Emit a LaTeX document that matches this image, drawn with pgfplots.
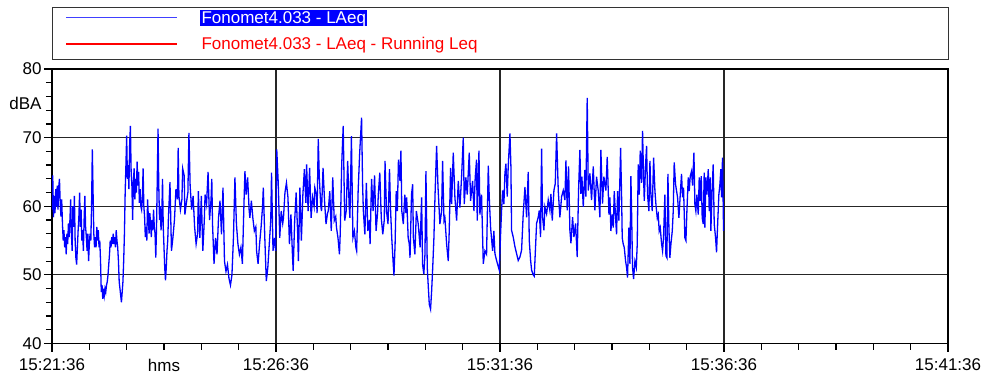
\documentclass[border=0pt]{standalone}
\usepackage{pgfplots}
\pgfplotsset{compat=1.18}
\usepackage{fontspec}
\setmainfont{Liberation Sans}
\definecolor{lblue}{RGB}{0,0,255}
\definecolor{lred}{RGB}{255,0,0}
\newcommand{\lfont}{\fontsize{17bp}{19bp}\selectfont}
\begin{document}
\begin{tikzpicture}[x=1bp,y=1bp]
\path[use as bounding box] (-52,-32.5) rectangle (936,343.5);
\begin{axis}[
  at={(0,0)}, anchor=south west,
  scale only axis, width=896bp, height=274.5bp,
  xmin=0, xmax=1200, ymin=40, ymax=80,
  xtick={0,300,600,900,1200},
  xticklabels={15:21:36,15:26:36,15:31:36,15:36:36,15:41:36},
  minor xtick={50,100,...,1150},
  ytick={40,50,...,80},
  minor ytick={42,44,...,78},
  extra y ticks={75}, extra y tick labels={dBA},
  extra y tick style={major tick length=0pt, grid=none, yticklabel style={xshift=-8bp}},
  extra x ticks={150}, extra x tick labels={hms},
  extra x tick style={major tick length=0pt, grid=none, xticklabel style={yshift=-8bp}},
  tick align=outside, xtick pos=bottom, ytick pos=left,
  major tick length=8bp, minor tick length=6bp,
  xmajorgrids, ymajorgrids,
  major grid style={black!85, line width=1.2bp},
  axis line style={line width=1.6bp},
  every tick/.style={black, line width=1.2bp},
  ticklabel style={font=\lfont},
  xticklabel style={yshift=-4bp},
  yticklabel style={/pgf/number format/assume math mode=true, xshift=1bp},
  legend style={at={(axis description cs:0.011,1.051)}, anchor=south west,
    draw=none, fill=none, font=\lfont, row sep=10bp,
    nodes={inner sep=0pt},
    /tikz/every odd column/.append style={column sep=22bp}},
  legend cell align=left,
]
\addlegendimage{legend image code/.code={\draw[color=lblue!75, line width=1.2bp] (0bp,0bp) -- (111bp,0bp);}}
\addlegendentry[fill=lblue, text=white, inner sep=1.5bp]{Fonomet4.033 - LAeq}
\addlegendimage{legend image code/.code={\draw[color=lred, line width=2bp] (0bp,0bp) -- (111bp,0bp);}}
\addlegendentry[text=lred, inner ysep=1.5bp, inner xsep=1.5bp]{Fonomet4.033 - LAeq - Running Leq}
\addplot[lblue, line width=1.3bp, forget plot] coordinates {
(0,59.5)(1,64.5)(2,58.4)(3,61.5)(4,59.0)(5,62.5)(6,60.0)(7,63.0)(8,59.5)(9,62.8)(10,64.0)(11,60.5)(12,58.5)(13,61.0)(14,57.5)(15,55.0)(16,56.5)(17,54.0)(18,55.5)(19,53.0)(20,56.0)(21,54.5)(22,57.5)(23,55.5)(24,58.0)(25,61.0)(26,56.0)(27,53.5)(28,60.0)(29,57.0)(30,61.5)(31,55.0)(32,52.5)(33,51.5)(34,54.0)(35,56.5)(36,58.5)(37,62.0)(38,57.0)(39,59.5)(40,55.0)(41,56.5)(42,53.5)(43,58.0)(44,61.5)(45,57.0)(46,55.5)(47,53.5)(48,56.0)(49,52.0)(50,54.5)(51,56.0)(52,55.0)(53,60.0)(54,68.3)(55,62.0)(56,56.0)(57,54.0)(58,55.5)(59,54.0)(60,57.0)(61,55.0)(62,56.5)(63,54.0)(64,55.0)(65,52.0)(66,47.5)(67,48.5)(68,46.5)(69,48.0)(70,47.0)(71,48.0)(72,47.5)(73,48.5)(74,49.0)(75,50.0)(76,51.5)(77,53.0)(78,55.0)(79,54.0)(80,55.5)(81,54.5)(82,56.0)(83,54.5)(84,55.5)(85,54.0)(86,56.5)(87,55.0)(88,54.0)(89,52.0)(90,49.0)(91,48.0)(92,47.0)(93,46.0)(94,47.5)(95,49.0)(96,52.0)(97,56.0)(98,62.0)(99,66.0)(100,70.3)(101,64.0)(102,66.0)(103,62.5)(104,69.0)(105,71.7)(106,65.0)(107,63.0)(108,58.0)(109,63.5)(110,65.5)(111,61.0)(112,64.0)(113,62.0)(114,66.5)(115,63.0)(116,65.0)(117,60.5)(118,62.5)(119,60.0)(120,59.5)(121,61.0)(122,65.5)(123,60.0)(124,58.5)(125,55.5)(126,57.0)(127,55.0)(128,61.0)(129,58.5)(130,56.0)(131,59.0)(132,57.5)(133,55.5)(134,58.0)(135,56.5)(136,59.5)(137,57.0)(138,56.0)(139,52.5)(140,57.0)(141,64.0)(142,71.3)(143,63.0)(144,58.0)(145,60.0)(146,56.5)(147,58.0)(148,64.0)(149,57.0)(150,54.0)(151,51.0)(152,49.2)(153,51.0)(154,53.5)(155,55.0)
(156,58.5)(158,63.5)(160,53.5)(162,55.5)(164,58.0)(166,62.5)(168,61.0)(169,68.5)(170,61.5)(172,59.5)(174,61.0)(175,65.5)(177,64.5)(178,58.8)(180,60.5)(182,62.0)(183.4,70.7)(185,63.0)(187,59.5)(189,61.5)(191,57.0)(193,54.5)(195,56.0)(196,62.2)(198,55.4)(200,61.5)(202,53.5)(204,58.0)(205,61.7)(207,60.3)(209,65.0)(211,58.0)(213,61.0)(214,64.0)(215,57.4)(217,51.6)(219,55.4)(221,53.0)(223,58.3)(225,60.8)(227,55.9)(229,62.7)(231,52.0)(233,50.5)(235,51.5)(237,49.5)(239,48.5)(241,50.0)(243,55.4)(245,64.2)(247,57.4)(249,54.5)(251,53.0)(253,54.0)(255,51.6)(257,60.0)(258.4,65.1)(260,61.7)(262,64.2)(264,59.5)(265,58.3)(267,60.8)(269,58.3)(271,56.4)(273,57.0)(274,53.5)(276,51.6)(278,54.5)(280,56.9)(282,60.0)(283,62.7)(285,55.4)(287,49.1)(289,51.0)(291,54.5)(293,58.0)(294,64.9)(296,53.5)(298,55.4)
(299.5,53.5)(301,68.3)(303,63.4)(305,55.4)(307,59.3)(309,57.5)(310,58.3)(312,62.0)(314,63.4)(316,61.3)(318,54.5)(320,58.8)(322,53.0)(323,50.6)(325,57.9)(327,62.0)(329,56.0)(330,52.0)(332,62.7)(334,55.0)(336,61.7)(338,65.4)(340,60.5)(341,66.1)(343,59.3)(345,65.6)(347,58.3)(349,61.3)(351,60.0)(352,62.7)(354,61.7)(355,59.0)(356.6,69.8)(358,64.2)(360,60.0)(361,59.3)(363,65.6)(365,60.8)(367,57.4)(369,59.0)(370,59.3)(372,62.2)(374,56.4)(376,64.2)(378,57.9)(380,58.5)(381,56.9)(383,55.4)(385,53.0)(386,56.0)(388,66.1)(390,71.7)(392,57.9)(394,59.3)(396,66.6)(398,60.0)(399,58.3)(401,70.2)(403,55.4)(405,56.4)(407,54.0)(408,53.5)(410,62.2)(412,67.6)(414.6,72.9)(416,63.0)(417,59.3)(419,55.9)(421,63.4)(423,56.4)(425,58.0)(426,54.5)(428,64.0)(430,59.3)(432,64.5)(434,56.4)(436,59.0)(437,61.7)(439,64.9)(441,58.3)(443,55.9)
(445,58.0)(446,66.6)(448,59.3)(450,57.4)(452,65.4)(453.5,59.3)(455,55.4)(457,51.6)(458,49.9)(459.5,54.5)(461,62.2)(462.5,59.3)(464,66.8)(466,63.7)(467.3,68.1)(468.5,59.3)(470.5,57.4)(472.5,61.7)(474,59.0)(475,61.3)(477,55.4)(478.5,54.5)(479.5,52.5)(481.5,61.7)(483,63.2)(484,55.4)(486,53.0)(488,59.3)(490.5,57.4)(493,54.0)(495,61.3)(496.3,51.5)(498,50.1)(499.5,53.0)(500.8,65.1)(502.6,51.0)(504,48.2)(505.3,45.7)(507,45.0)(508.4,47.6)(509.7,50.6)(511.5,55.4)(513,61.7)(515.1,68.8)(517,62.7)(519.5,57.4)(521.8,59.3)(523.1,66.6)(525,57.9)(526.2,58.3)(528.5,54.5)(530.7,52.0)(532,56.4)(533.8,65.6)(535.2,60.3)(537.4,67.8)(539.6,61.3)(541.9,57.9)(544.1,63.7)(546.3,59.8)(548.5,64.2)(550.8,70.0)(552.1,60.3)(554.3,64.2)(556.1,61.7)(558.8,67.8)(560.6,60.8)(563.3,63.7)(565.1,59.3)(566.8,64.2)(568.6,66.8)(569.5,57.9)(571.8,68.1)(573.1,58.8)(575.3,61.7)(577.6,51.6)(579.8,53.5)(582,53.0)(584.3,65.9)(585.6,61.3)(587.4,56.9)(590.1,53.5)(591.8,56.4)
(593.2,53.1)(595.4,52.1)(597.7,51.2)(599,50.7)(600.8,56.0)(602.1,59.4)(603.5,62.3)(605.2,60.3)(606.6,64.8)(607.9,66.2)(609.7,61.4)(611,65.8)(613.3,70.6)(614.6,65.8)(615.5,56.5)(617.7,55.5)(620,54.1)(622.2,53.1)(624.4,52.1)(626.7,52.6)(628.9,53.6)(631.1,58.9)(633.4,62.8)(635.6,58.4)(637.8,65.0)(639.2,55.0)(641,52.1)(642.3,50.7)(644.5,50.0)(645.9,49.8)(646.8,52.1)(649,57.5)(651.2,58.4)(652.6,59.4)(654.3,55.5)(655.7,68.4)(657,58.4)(658.8,56.5)(660.1,59.9)(662.4,58.9)(664.6,60.9)(666.8,59.4)(668.2,61.8)(670,57.9)(672.2,62.3)(674,63.3)(675.8,70.6)(678,62.3)(680.2,58.4)(682.5,61.4)(684.7,62.3)(686.9,60.9)(688.3,66.7)(690,59.4)(691.8,65.8)(693.6,56.5)(695,54.6)(697.2,58.4)(699,55.5)(701.2,57.5)(703.4,52.6)(705.2,62.3)(707,68.2)(708.3,61.8)(709.7,64.3)(711.5,59.9)(713.7,65.3)(715,61.4)(716.8,75.8)(718.2,62.3)(720.4,64.8)(722.6,60.9)(724.9,65.8)(727.1,59.4)(729.3,64.3)(731.5,62.3)(733.8,58.4)(735.1,68.2)(737.3,60.4)(739.1,64.3)(741.8,62.3)(743.6,67.2)
(745.9,58.8)(747.2,61.3)(748.5,56.4)(750.3,58.8)(751.7,56.9)(753,62.2)(754.8,58.3)(756.1,55.9)(757.5,62.2)(759.2,57.9)(760.6,64.2)(761.5,68.5)(762.8,61.7)(763.7,55.4)(765,54.5)(766.4,54.0)(768.2,52.0)(769.5,51.1)(770.8,49.6)(772.6,56.9)(774,51.6)(775.3,64.4)(776.2,59.3)(777.5,51.1)(778.9,49.4)(780.7,52.0)(782.5,51.1)(783.8,54.5)(785.1,66.1)(786.5,61.7)(787.8,68.1)(789.6,63.4)(790.9,71.0)(792.3,64.2)(793.2,60.8)(795,66.1)(796.3,68.8)(797.6,61.7)(799.4,59.3)(800.8,66.6)(802.1,61.7)(803.9,59.3)(805.7,67.1)(807.5,62.2)(808.8,60.3)(810.6,58.3)(811.9,58.8)(813.2,56.4)(814.6,56.9)(816.4,54.5)(817.7,53.5)(819,55.4)(820.8,61.7)(822.2,52.8)(823.5,52.5)(824.9,64.7)(826.2,56.9)(827.5,52.5)(828.9,54.5)(830.7,56.4)(832,59.3)(833.3,66.4)(835.1,63.2)(836.5,62.2)(837.8,61.3)(839.6,58.3)(841.4,61.7)(843.1,64.7)(844.5,61.3)(845.8,62.7)(847.6,55.4)(849,55.0)(850.3,59.3)(852.1,64.2)(853.4,62.2)(854.8,64.4)(856.5,65.1)(857.9,63.0)(859.7,67.8)(861,60.3)(862.3,59.3)(863.7,61.7)(865.5,58.8)(866.8,64.2)(868.1,60.8)(869.5,64.4)(870.8,58.3)(872.2,57.4)(873.5,64.9)(874.4,56.9)(875.7,64.2)(877.1,61.7)(878.9,65.4)(880.2,59.3)(881.5,64.2)(882.4,56.4)(884.2,62.7)(885.5,66.1)(886.9,57.4)(888.7,55.4)(890,53.3)(891.3,56.9)(893.1,61.7)(894.5,63.2)(895.8,65.4)(896.7,61.3)(898,67.1)(899.4,56.4)
};
\end{axis}
\draw[black!80, line width=0.9bp] (0,284.5) rectangle (896,336.5);
\end{tikzpicture}
\end{document}
